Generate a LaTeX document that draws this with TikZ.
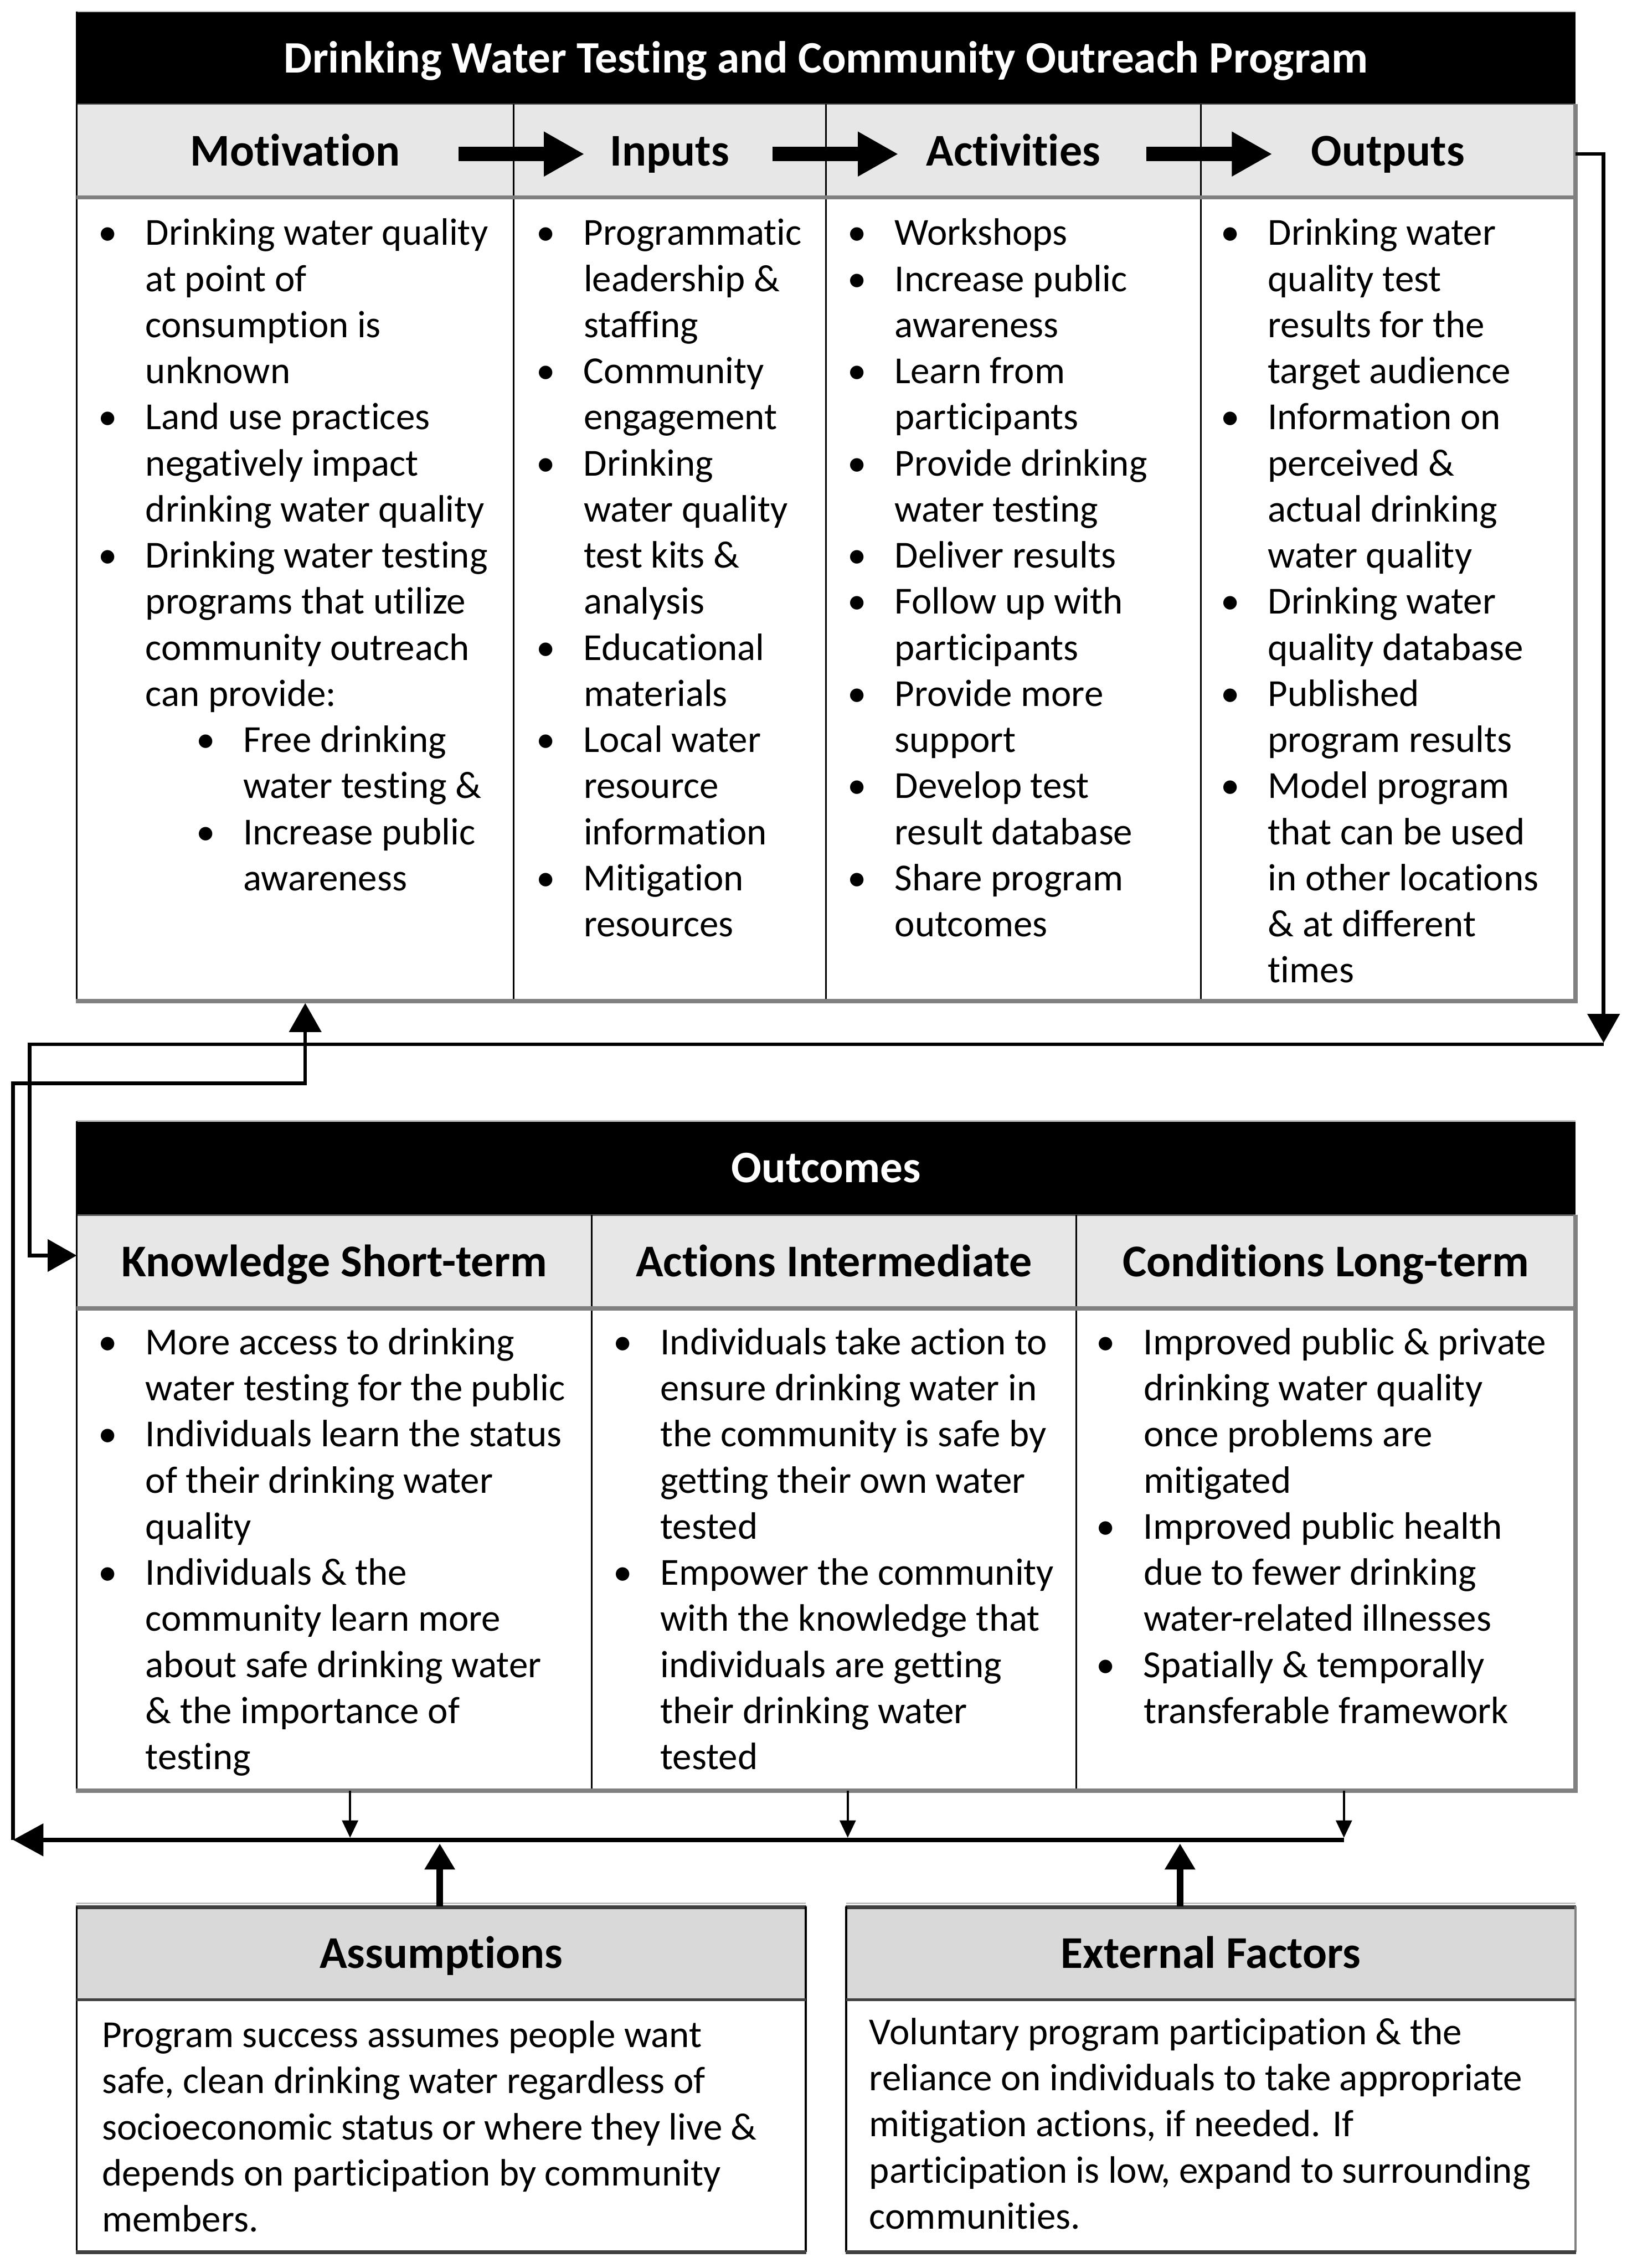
\documentclass[tikz,border=0pt]{standalone}
\usepackage{fontspec}
\setmainfont{Carlito}[Ligatures=NoCommon]
\usetikzlibrary{arrows.meta}
\newcommand\bu{\makebox[26pt][l]{\makebox[0pt]{\textbullet}}}
\newcommand\ci{\hspace*{26pt}}
\newcommand\sbu{\hspace*{67.5pt}\bu}
\newcommand\sci{\hspace*{93.5pt}}
\newcommand\fs{\rule{0pt}{20pt}}
\definecolor{hdrA}{HTML}{E7E7E7}
\definecolor{hdrB}{HTML}{D9D9D9}
\definecolor{shd}{HTML}{808080}
\definecolor{dkg}{HTML}{404040}
\tikzset{
  cell/.style={inner sep=0pt, outer sep=0pt, draw=none, text height=20.2pt, text depth=0pt,
    font=\fontsize{31.4}{36}\selectfont\bfseries},
  ttlcell/.style={cell, fill=black, text=white, minimum width=1036pt, minimum height=64.5pt,
    font=\fontsize{31.1}{36}\selectfont\bfseries},
  hcellA/.style={cell, fill=hdrA, minimum height=65pt},
  hcellB/.style={cell, fill=hdrB, minimum height=65pt},
  bcell/.style={inner sep=0pt, outer sep=0pt, draw=none, fill=white},
  bodytxt/.style={inner sep=0pt, outer sep=0pt, anchor=north west, align=left,
    font=\fontsize{26.4}{31.87}\selectfont},
  sh/.style={draw=shd, line width=3pt},
  edge/.style={draw=black, line width=1.3pt},
  dv/.style={draw=black, line width=1.1pt},
  fb/.style={line width=2.5pt, -{Triangle[length=20pt,width=22pt]}},
  bigarr/.style={line width=10pt, -{Triangle[length=28pt,width=29pt]}},
  thinarr/.style={line width=1.6pt, -{Triangle[length=12pt,width=11pt]}},
  uparr/.style={line width=4.5pt, -{Triangle[length=18pt,width=20pt]}},
  mainln/.style={line width=3.2pt, -{Triangle[length=21pt,width=22pt]}},
}
\begin{document}
\begin{tikzpicture}[x=1pt,y=-1pt]
\useasboundingbox (0,0) rectangle (1128,1568);
\fill[white] (0,0) rectangle (1128,1568);

% ===== Top block =====
\node[ttlcell] (ttl) at (571,40.25) {Drinking Water Testing and Community Outreach Program};
\node[hcellA, minimum width=302pt] (hmot) at (204,104.5) {Motivation};
\node[hcellA, minimum width=216pt] (hinp) at (463,104.5) {Inputs};
\node[hcellA, minimum width=259pt] (hact) at (700.5,104.5) {Activities};
\node[hcellA, minimum width=259pt] (hout) at (959.5,104.5) {Outputs};
\node[bcell, minimum width=302pt, minimum height=555pt] (bmot) at (204,414.5) {};
\node[bcell, minimum width=216pt, minimum height=555pt] (binp) at (463,414.5) {};
\node[bcell, minimum width=259pt, minimum height=555pt] (bact) at (700.5,414.5) {};
\node[bcell, minimum width=259pt, minimum height=555pt] (bout) at (959.5,414.5) {};

\draw[draw=gray!50, line width=1pt] (53,8) -- (1089,8);
\draw[draw=gray!70!black, line width=1pt] (53,72) -- (1089,72);
\draw[edge] (53,8) -- (53,692);
\draw[dv] (355,72) -- (355,692);
\draw[dv] (571,72) -- (571,692);
\draw[dv] (830,72) -- (830,692);
\draw[sh] (1089,72) -- (1089,693.5);
\draw[sh] (53,136.5) -- (1089,136.5);
\draw[sh] (52.5,692) -- (1090.5,692);

\coordinate (a1s) at (317,106.5);   \coordinate (a1e) at (404,106.5);
\coordinate (a2s) at (534,106.5);   \coordinate (a2e) at (621,106.5);
\coordinate (a3s) at (792.5,106.5); \coordinate (a3e) at (879.5,106.5);
\draw[bigarr] (a1s) -- (a1e);
\draw[bigarr] (a2s) -- (a2e);
\draw[bigarr] (a3s) -- (a3e);

\node[bodytxt] (tmot) at (74.6,149.5) {\fs\bu Drinking water quality\\
\ci at point of\\
\ci consumption is\\
\ci unknown\\
\bu Land use practices\\
\ci negatively impact\\
\ci drinking water quality\\
\bu Drinking water testing\\
\ci programs that utilize\\
\ci community outreach\\
\ci can provide:\\
\sbu Free drinking\\
\sci water testing \&\\
\sbu Increase public\\
\sci awareness};

\node[bodytxt] (tinp) at (377.5,149.5) {\fs\bu Programmatic\\
\ci leadership \&\\
\ci staffing\\
\bu Community\\
\ci engagement\\
\bu Drinking\\
\ci water quality\\
\ci test kits \&\\
\ci analysis\\
\bu Educational\\
\ci materials\\
\bu Local water\\
\ci resource\\
\ci information\\
\bu Mitigation\\
\ci resources};

\node[bodytxt] (tact) at (592.5,149.5) {\fs\bu Workshops\\
\bu Increase public\\
\ci awareness\\
\bu Learn from\\
\ci participants\\
\bu Provide drinking\\
\ci water testing\\
\bu Deliver results\\
\bu Follow up with\\
\ci participants\\
\bu Provide more\\
\ci support\\
\bu Develop test\\
\ci result database\\
\bu Share program\\
\ci outcomes};

\node[bodytxt] (tout) at (850.5,149.5) {\fs\bu Drinking water\\
\ci quality test\\
\ci results for the\\
\ci target audience\\
\bu Information on\\
\ci perceived \&\\
\ci actual drinking\\
\ci water quality\\
\bu Drinking water\\
\ci quality database\\
\bu Published\\
\ci program results\\
\bu Model program\\
\ci that can be used\\
\ci in other locations\\
\ci \& at different\\
\ci times};

% ===== Outcomes block =====
\node[ttlcell, minimum height=65pt] (ttl2) at (571,807.5) {Outcomes};
\node[hcellA, minimum width=356pt] (hkno) at (231,872.5) {Knowledge Short-term};
\node[hcellA, minimum width=335pt] (hacn) at (576.5,872.5) {Actions Intermediate};
\node[hcellA, minimum width=345pt] (hcon) at (916.5,872.5) {Conditions Long-term};
\node[bcell, minimum width=356pt, minimum height=333pt] (bkno) at (231,1071.5) {};
\node[bcell, minimum width=335pt, minimum height=333pt] (bacn) at (576.5,1071.5) {};
\node[bcell, minimum width=345pt, minimum height=333pt] (bcon) at (916.5,1071.5) {};

\draw[draw=gray!50, line width=1pt] (53,775) -- (1089,775);
\draw[draw=gray!70!black, line width=1pt] (53,840) -- (1089,840);
\draw[edge] (53,775) -- (53,1238);
\draw[dv] (409,840) -- (409,1238);
\draw[dv] (744,840) -- (744,1238);
\draw[sh] (1089,840) -- (1089,1239.5);
\draw[sh] (53,904.5) -- (1089,904.5);
\draw[sh] (52.5,1238) -- (1090.5,1238);

\node[bodytxt] (tkno) at (74.6,916.5) {\fs\bu More access to drinking\\
\ci water testing for the public\\
\bu Individuals learn the status\\
\ci of their drinking water\\
\ci quality\\
\bu Individuals \& the\\
\ci community learn more\\
\ci about safe drinking water\\
\ci \& the importance of\\
\ci testing};

\node[bodytxt] (tacn) at (430.5,916.5) {\fs\bu Individuals take action to\\
\ci ensure drinking water in\\
\ci the community is safe by\\
\ci getting their own water\\
\ci tested\\
\bu Empower the community\\
\ci with the knowledge that\\
\ci individuals are getting\\
\ci their drinking water\\
\ci tested};

\node[bodytxt] (tcon) at (764.5,916.5) {\fs\bu Improved public \& private\\
\ci drinking water quality\\
\ci once problems are\\
\ci mitigated\\
\bu Improved public health\\
\ci due to fewer drinking\\
\ci water-related illnesses\\
\bu Spatially \& temporally\\
\ci transferable framework};

% ===== Assumptions / External factors =====
\node[hcellB, minimum width=504pt] (hasm) at (305,1350.5) {Assumptions};
\node[hcellB, minimum width=504pt] (hext) at (837,1350.5) {External Factors};
\node[bcell, minimum width=504pt, minimum height=174pt] (basm) at (305,1470) {};
\node[bcell, minimum width=504pt, minimum height=174pt] (bext) at (837,1470) {};

\draw[draw=gray!50, line width=1pt] (53,1316) -- (557,1316);
\draw[draw=gray!50, line width=1pt] (585,1316) -- (1089,1316);
\draw[draw=dkg, line width=2.6pt] (52.5,1318.5) -- (557.5,1318.5);
\draw[draw=dkg, line width=2.6pt] (584.5,1318.5) -- (1089.5,1318.5);
\draw[edge] (53,1318) -- (53,1557);
\draw[edge] (557,1318) -- (557,1557);
\draw[edge] (585,1318) -- (585,1557);
\draw[draw=shd, line width=1.6pt] (1089,1318) -- (1089,1557);
\draw[draw=dkg, line width=2pt] (53,1382.5) -- (557,1382.5);
\draw[draw=dkg, line width=2pt] (585,1382.5) -- (1089,1382.5);
\draw[draw=dkg, line width=2.6pt] (52.5,1557) -- (557.5,1557);
\draw[draw=dkg, line width=2.6pt] (584.5,1557) -- (1089.5,1557);

\node[bodytxt] (tasm) at (70.5,1395.5) {\fs Program success assumes people want\\
safe, clean drinking water regardless of\\
socioeconomic status or where they live \&\\
depends on participation by community\\
members.};

\node[bodytxt] (text) at (601,1393.5) {\fs Voluntary program participation \& the\\
reliance on individuals to take appropriate\\
mitigation actions, if needed. If\\
participation is low, expand to surrounding\\
communities.};

% ===== Connectors =====
\coordinate (rr) at (1108.5,721);
\coordinate (lk) at (20.5,722);
\draw[fb] ([yshift=-2pt]hout.east) -| (rr);
\draw[fb] (1108.5,722) -- (lk) |- ([yshift=4.5pt]hkno.west);

\coordinate (mr) at (929,1272);
\coordinate (ml) at (9,1272);
\draw[mainln] (mr) -- (ml);
\draw[fb] (ml) -- (9,749) -- (211,749) -- ([xshift=7pt,yshift=-1.5pt]bmot.south);

\draw[thinarr] ([xshift=11pt]bkno.south) -- ++(0,32.5);
\draw[thinarr] ([xshift=9.5pt]bacn.south) -- ++(0,32.5);
\draw[thinarr] ([xshift=12.5pt]bcon.south) -- ++(0,32.5);

\draw[uparr] ([xshift=-1pt]hasm.north) -- ++(0,-43.5);
\draw[uparr] ([xshift=-21.3pt]hext.north) -- ++(0,-43.5);
\end{tikzpicture}
\end{document}
